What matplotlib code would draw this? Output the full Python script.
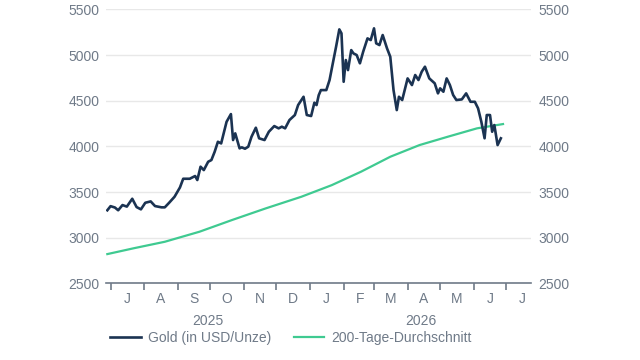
import pandas as pd
import matplotlib
matplotlib.use("Agg")
import matplotlib.pyplot as plt
import matplotlib.dates as mdates
import matplotlib.transforms as mtransforms

plt.rcParams["font.family"] = ["Liberation Sans", "DejaVu Sans"]

# Gold price (USD/oz)
gold_dates = [
    "2025-06-28", "2025-07-01", "2025-07-05", "2025-07-08", "2025-07-12", "2025-07-16",
    "2025-07-21", "2025-07-25", "2025-07-29", "2025-08-02", "2025-08-07", "2025-08-11",
    "2025-08-17", "2025-08-20", "2025-08-24", "2025-08-29", "2025-09-03", "2025-09-06",
    "2025-09-12", "2025-09-17", "2025-09-19", "2025-09-22", "2025-09-25", "2025-09-29",
    "2025-10-02", "2025-10-05", "2025-10-08", "2025-10-11", "2025-10-16", "2025-10-20",
    "2025-10-22", "2025-10-24", "2025-10-28", "2025-10-30", "2025-11-02", "2025-11-05",
    "2025-11-08", "2025-11-12", "2025-11-15", "2025-11-20", "2025-11-24", "2025-11-29",
    "2025-12-03", "2025-12-06", "2025-12-09", "2025-12-13", "2025-12-18", "2025-12-21",
    "2025-12-26", "2025-12-29", "2026-01-02", "2026-01-05", "2026-01-07", "2026-01-09",
    "2026-01-11", "2026-01-16", "2026-01-19", "2026-01-22", "2026-01-25", "2026-01-28",
    "2026-01-30", "2026-02-01", "2026-02-03", "2026-02-05", "2026-02-08", "2026-02-10",
    "2026-02-13", "2026-02-16", "2026-02-19", "2026-02-23", "2026-02-26", "2026-03-01",
    "2026-03-03", "2026-03-06", "2026-03-09", "2026-03-13", "2026-03-16", "2026-03-19",
    "2026-03-22", "2026-03-24", "2026-03-27", "2026-04-01", "2026-04-05", "2026-04-08",
    "2026-04-11", "2026-04-14", "2026-04-17", "2026-04-21", "2026-04-26", "2026-04-29",
    "2026-05-01", "2026-05-04", "2026-05-07", "2026-05-10", "2026-05-13", "2026-05-16",
    "2026-05-21", "2026-05-25", "2026-05-29", "2026-06-02", "2026-06-05", "2026-06-08",
    "2026-06-11", "2026-06-13", "2026-06-16", "2026-06-18", "2026-06-20", "2026-06-23",
    "2026-06-26",
]
gold_values = [
    3300, 3345, 3330, 3300, 3357, 3340,
    3426, 3335, 3310, 3382, 3397, 3346,
    3332, 3332, 3382, 3448, 3550, 3645,
    3645, 3675, 3631, 3777, 3740, 3831,
    3850, 3940, 4050, 4032, 4269, 4353,
    4069, 4142, 3978, 3989, 3974, 3996,
    4105, 4204, 4088, 4069, 4160, 4222,
    4197, 4215, 4197, 4288, 4343, 4452,
    4543, 4343, 4332, 4478, 4452, 4560,
    4616, 4616, 4726, 4909, 5090, 5281,
    5237, 4707, 4945, 4835, 5054, 5018,
    5000, 4909, 5036, 5182, 5164, 5292,
    5128, 5109, 5219, 5073, 4981, 4616,
    4397, 4543, 4507, 4744, 4671, 4781,
    4726, 4817, 4872, 4744, 4690, 4580,
    4635, 4598, 4744, 4671, 4562, 4507,
    4514, 4580, 4488, 4488, 4416, 4269,
    4088, 4343, 4343, 4160, 4233, 4014,
    4088,
]

# 200-day moving average
ma_dates = ["2025-06-28", "2025-07-22", "2025-08-20", "2025-09-21", "2025-10-21",
            "2025-11-21", "2025-12-24", "2026-01-21", "2026-02-17", "2026-03-16",
            "2026-04-12", "2026-05-08", "2026-06-04", "2026-06-28"]
ma_values = [2820, 2883, 2955, 3065, 3193, 3320, 3448, 3575, 3722, 3886,
             4014, 4105, 4197, 4244]

month_letters = "JFMAMJJASOND"
year_labels = ["2025", "2026"]
series_names = ["Gold (in USD/Unze)", "200-Tage-Durchschnitt"]

navy = "#1b3352"
green = "#3fca91"
grey = "#6f7a88"

gold = pd.Series(gold_values, index=pd.to_datetime(gold_dates))
ma = pd.Series(ma_values, index=pd.to_datetime(ma_dates))

fig = plt.figure(figsize=(6.4, 3.6), dpi=100)
ax = fig.add_axes([0.166, 0.213, 0.664, 0.761])

ax.plot(gold.index, gold.values, color=navy, lw=1.9, label=series_names[0], zorder=3)
ax.plot(ma.index, ma.values, color=green, lw=1.6, label=series_names[1], zorder=2)

x0, x1 = pd.Timestamp("2025-06-27"), pd.Timestamp("2026-07-24")
ax.set_xlim(x0, x1)
ax.set_ylim(2500, 5500)
ax.set_yticks(range(2500, 5501, 500))
ax.grid(axis="y", color="#e8e8e8", lw=1)
ax.set_axisbelow(True)

for s in ["top", "left", "right"]:
    ax.spines[s].set_visible(False)
ax.spines["bottom"].set_color(grey)
ax.spines["bottom"].set_linewidth(1.2)

ax.tick_params(axis="y", length=0, labelsize=10, labelcolor=grey,
               labelleft=True, labelright=True, pad=5)

# month ticks at month start, letters at mid-month
ax.xaxis.set_major_locator(mdates.MonthLocator())
ax.xaxis.set_major_formatter(plt.NullFormatter())
ax.xaxis.set_minor_locator(mdates.MonthLocator(bymonthday=16))
ax.xaxis.set_minor_formatter(
    plt.FuncFormatter(lambda v, p: month_letters[mdates.num2date(v).month - 1]))
ax.tick_params(axis="x", which="major", length=5, color=grey, width=1.2)
ax.tick_params(axis="x", which="minor", length=0, labelsize=10, labelcolor=grey, pad=6)

# year labels centered on the visible part of each year
trans = mtransforms.blended_transform_factory(ax.transData, ax.transAxes)
bounds = [(x0, pd.Timestamp("2026-01-01")), (pd.Timestamp("2026-01-01"), x1)]
for lab, (a, b) in zip(year_labels, bounds):
    mid = a + (b - a) / 2
    ax.text(mid, -0.113, lab, transform=trans, ha="center", va="top",
            fontsize=10, color=grey)

leg = fig.legend(loc="center left", bbox_to_anchor=(0.172, 0.061), ncol=2,
                 frameon=False, fontsize=10, handlelength=2.2, columnspacing=1.65,
                 handletextpad=0.5, borderpad=0, borderaxespad=0)
for t in leg.get_texts():
    t.set_color(grey)

fig.savefig("out.png", dpi=100)
